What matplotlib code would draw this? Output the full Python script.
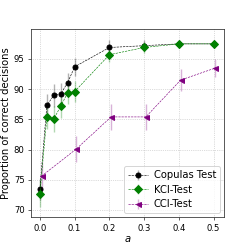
import matplotlib
matplotlib.use("Agg")
import matplotlib.pyplot as plt
import numpy as np

a_vals = [0.0, 0.02, 0.04, 0.06, 0.08, 0.1, 0.2, 0.3, 0.4, 0.5]
copulas_mean = [73.4, 87.3, 89.0, 89.2, 91.1, 93.7, 96.9, 97.2, 97.5, 97.5]
copulas_err = [1.7, 1.9, 1.9, 1.8, 1.6, 1.5, 1.2, 0.9, 0.7, 0.7]
kci_mean = [72.7, 85.4, 85.05, 87.2, 89.4, 89.6, 95.7, 96.9, 97.5, 97.5]
kci_err = [2.3, 2.0, 2.2, 2.0, 1.8, 1.8, 1.2, 0.9, 0.7, 0.7]

a_cci = [0.0, 0.1, 0.2, 0.3, 0.4, 0.5]
cci_mean = [75.6, 80.1, 85.4, 85.4, 91.5, 93.5]
cci_err = [2.3, 2.2, 2.2, 2.2, 1.8, 1.5]
cci_shift = 0.005

fig = plt.figure(figsize=(249 / 72, 249 / 72), dpi=72)
ax = fig.add_axes([0.125, 0.128, 0.775, 0.754])

common = dict(lw=0.6, ls="--", elinewidth=1.4, ms=5)
ax.errorbar(a_vals, copulas_mean, yerr=copulas_err, color="black", marker="o",
            ecolor=(0, 0, 0, 0.3), label="Copulas Test", **common)
ax.errorbar(a_vals, kci_mean, yerr=kci_err, color="green", marker="D",
            ecolor=(0, 0.5, 0, 0.3), label="KCI-Test", **common)
ax.errorbar(np.array(a_cci) + cci_shift, cci_mean, yerr=cci_err, color="purple",
            marker="<", ecolor=(0.5, 0, 0.5, 0.3), label="CCI-Test", **common)

ax.set_ylim(68.8, 99.9)
ax.set_yticks([70, 75, 80, 85, 90, 95])
ax.set_xticks([0.0, 0.1, 0.2, 0.3, 0.4, 0.5])
ax.tick_params(labelsize=8.5, length=3, width=0.6)
ax.grid(True, ls=":", color="#bbbbbb", lw=0.7)
ax.set_xlabel("$a$", fontsize=10, labelpad=1)
ax.set_ylabel("Proportion of correct decisions", fontsize=10, labelpad=3)
for s in ax.spines.values():
    s.set_linewidth(0.8)
    s.set_color("#333333")
ax.legend(loc="lower right", fontsize=10, handlelength=2.0, borderaxespad=0.4,
          handletextpad=0.6, labelspacing=0.45)

fig.savefig("out.png", dpi=72)
